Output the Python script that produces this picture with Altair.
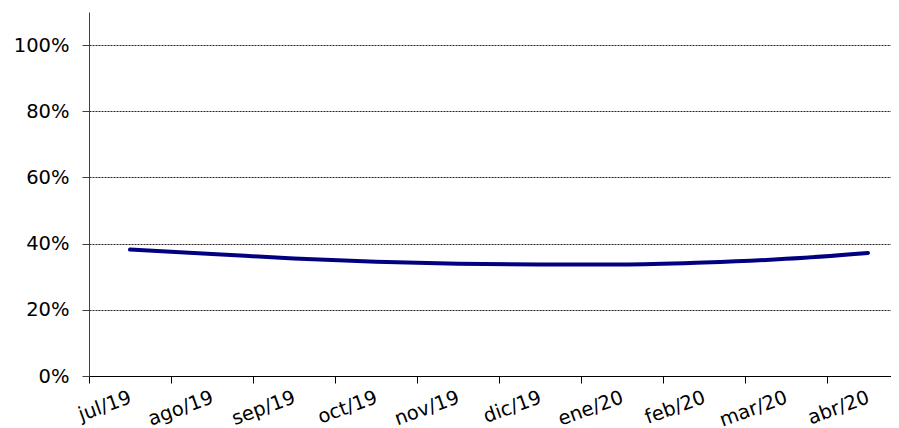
import altair as alt
import pandas as pd

months = ["jul/19", "ago/19", "sep/19", "oct/19", "nov/19",
          "dic/19", "ene/20", "feb/20", "mar/20", "abr/20"]
values = [38.2, 36.9, 35.5, 34.5, 33.9, 33.7, 33.7, 34.3, 35.4, 37.2]
y_ticks = [0, 0.2, 0.4, 0.6, 0.8, 1.0]

df = pd.DataFrame({
    "pos": [i + 0.5 for i in range(len(months))],
    "month": months,
    "share": [v / 100 for v in values],
})

label_expr = "[" + ",".join("'" + m + "'" for m in months) + "][datum.value]"

FONT = "DejaVu Sans"
PLOT_W = 802
BAND = 82

chart = alt.Chart(df).mark_line(
    color="#000080", strokeWidth=4, interpolate="monotone", strokeCap="round"
).encode(
    x=alt.X("pos:Q",
            scale=alt.Scale(domain=[0, PLOT_W / BAND], nice=False, zero=False),
            axis=alt.Axis(values=list(range(len(months))), labelExpr=label_expr,
                          labelOffset=38, labelAngle=-20, labelAlign="right",
                          labelBaseline="top", labelPadding=5, tickSize=7,
                          labelOverlap=False, grid=False, title=None,
                          domainColor="#000000", tickColor="#000000",
                          labelFont=FONT, labelFontSize=19.5, labelColor="#000000")),
    y=alt.Y("share:Q",
            scale=alt.Scale(domain=[0, 1.1], nice=False),
            axis=alt.Axis(values=y_ticks, format=".0%", tickSize=7, labelPadding=13,
                          grid=True, gridColor="#222222", gridDash=[2, 1], gridWidth=1,
                          domainColor="#404040", tickColor="#404040", title=None,
                          labelFont=FONT, labelFontSize=19.5, labelColor="#000000")),
).properties(
    width=PLOT_W,
    height=364,
    autosize=alt.AutoSizeParams(type="none"),
    padding={"left": 81, "top": 4, "right": 0, "bottom": 52},
).configure_view(stroke=None)

chart.save("out.html", embed_options={"renderer": "svg", "actions": False})
